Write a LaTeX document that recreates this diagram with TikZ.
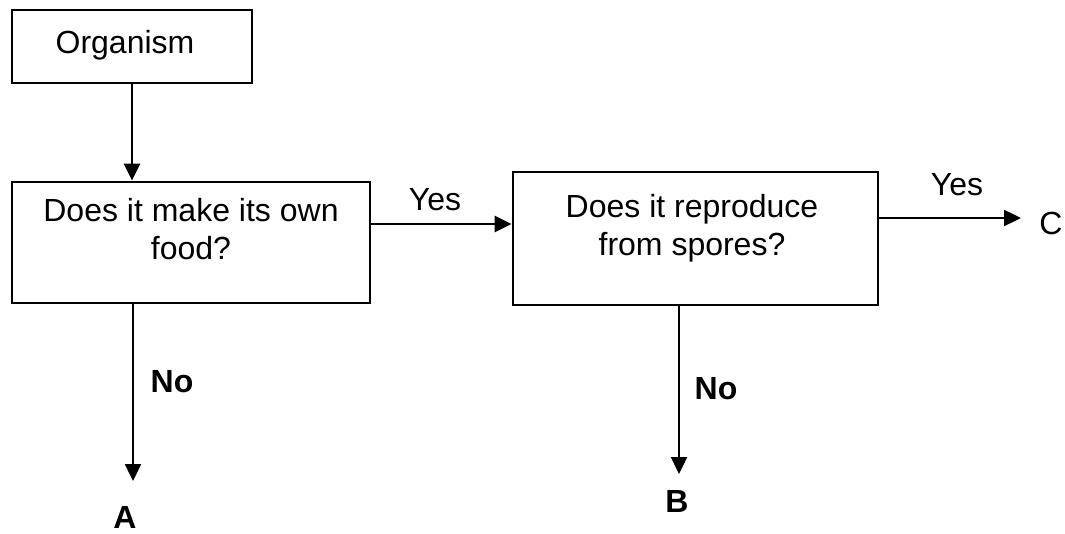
\documentclass[tikz,border=0pt]{standalone}
\usepackage{fontspec}
\setmainfont{Liberation Sans}
\usetikzlibrary{arrows.meta}
\tikzset{
  box/.style={draw, line width=2.8pt, inner sep=0pt},
  txt/.style={align=center, inner sep=0pt, font=\fontsize{32}{38}\selectfont},
  lbl/.style={inner sep=0pt, font=\fontsize{32}{38}\selectfont},
  blbl/.style={inner sep=0pt, font=\fontsize{32}{38}\selectfont\bfseries},
  arr/.style={line width=2.4pt, -{Triangle[length=17pt,width=16pt]}},
}
\begin{document}
\begin{tikzpicture}[x=1pt,y=-1pt]
\useasboundingbox (0,0) rectangle (1065,534);
% boxes
\node[box, minimum width=240pt, minimum height=73pt] (org) at (132,46.5) {};
\node[txt] (orgt) at (125,45) {Organism};
\node[box, minimum width=358pt, minimum height=121pt] (q1) at (191,242.5) {};
\node[txt] (q1t) at (191,229) {Does it make its own\\food?};
\node[box, minimum width=365pt, minimum height=133pt] (q2) at (695.5,238.5) {};
\node[txt] (q2t) at (692,228.5) {Does it reproduce\\from spores?};
% ends
\node[blbl] (A) at (125,517) {A};
\node[blbl] (B) at (677,501) {B};
\node[lbl] (C) at (1051,223) {C};
\coordinate (tipA) at (133,481);
\coordinate (tipB) at (679,474);
\coordinate (tipC) at (1021,218);
\coordinate (yes1y) at (0,224);
% connectors
\draw[arr] (org.south) -- (org.south |- q1.north);
\draw[arr] (q1.east |- yes1y) -- (q2.west |- yes1y);
\draw[arr] (q2.east |- tipC) -- (tipC);
\draw[arr] (q1.south -| tipA) -- (tipA);
\draw[arr] (q2.south -| tipB) -- (tipB);
% labels
\node[lbl] (yes1) at (435,200) {Yes};
\node[lbl] (yes2) at (957,185) {Yes};
\node[blbl] (no1) at (172,382) {No};
\node[blbl] (no2) at (716,389) {No};
\end{tikzpicture}
\end{document}
